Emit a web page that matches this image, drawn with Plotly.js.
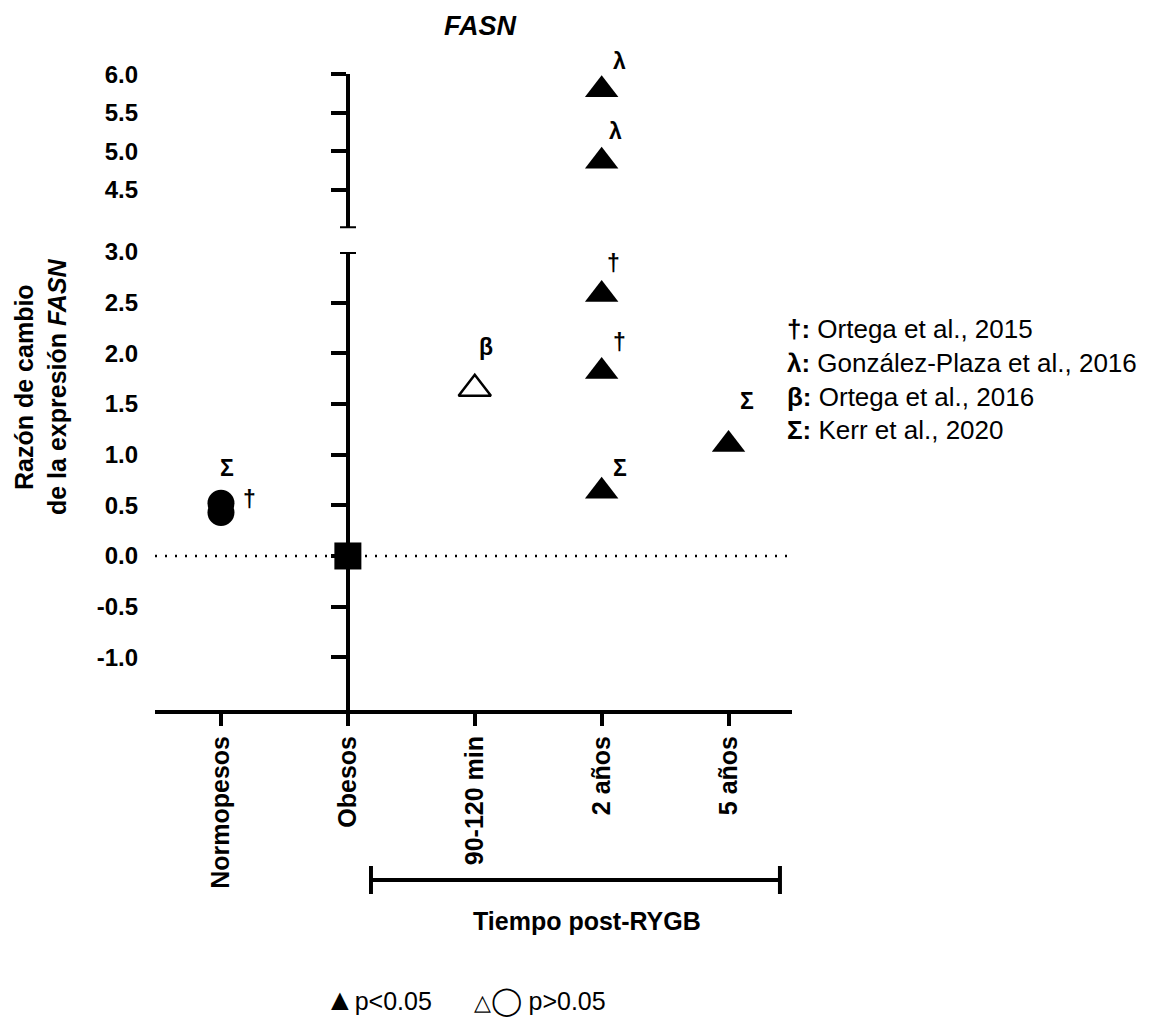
<!DOCTYPE html>
<html>
<head>
<meta charset="utf-8">
<script src="https://cdn.plot.ly/plotly-3.0.1.min.js"></script>
<style>html,body{margin:0;padding:0;background:#fff;}#chart{width:1156px;height:1028px;}</style>
</head>
<body>
<div id="chart"></div>
<script>
// ---------- data ----------
const categories = ['Normopesos', 'Obesos', '90-120 min', '2 años', '5 años'];

const normoX = ['Normopesos', 'Normopesos'];
const normoY = [0.52, 0.43];

const obesosX = ['Obesos'];
const obesosY = [0];

const sigLowerX = ['2 años', '2 años', '2 años', '5 años'];
const sigLowerY = [2.58, 1.82, 0.64, 1.10];

const sigUpperX = ['2 años', '2 años'];
const sigUpperY = [5.80, 4.87];

const nsX = ['90-120 min'];
const nsY = [1.65];

const labelText = ['Σ', '†', 'β', 'λ', 'λ', '†', '†', 'Σ', 'Σ'];
const labelX = ['Normopesos', 'Normopesos', '90-120 min', '2 años', '2 años', '2 años', '2 años', '2 años', '5 años'];
const labelY = [0.52, 0.52, 1.65, 5.80, 4.87, 2.58, 1.82, 0.64, 1.10];
const labelAxis = ['y', 'y', 'y', 'y2', 'y2', 'y', 'y', 'y', 'y'];

const yLowerTickVals = [-1, -0.5, 0, 0.5, 1, 1.5, 2, 2.5, 3];
const yLowerTickText = ['-1.0', '-0.5', '0.0', '0.5', '1.0', '1.5', '2.0', '2.5', '3.0'];
const yUpperTickVals = [4.5, 5, 5.5, 6];
const yUpperTickText = ['4.5', '5.0', '5.5', '6.0'];

const refLegend = [
  ['†', 'Ortega et al., 2015'],
  ['λ', 'González-Plaza et al., 2016'],
  ['β', 'Ortega et al., 2016'],
  ['Σ', 'Kerr et al., 2020']
];

// ---------- layout helpers ----------
const W = 1156, H = 1028;
const px = v => v / W;
const py = v => 1 - v / H;
const FONT = 'Liberation Sans, Arial, sans-serif';
const labelOffsets = [[6, 35], [29, 4], [11, 42], [18, 29], [14, 30], [12, 32], [18, 30], [18, 23], [18, 44]];
const LW = 4;

const mk = (x, y, yaxis, symbol, extra) => Object.assign({
  type: 'scatter', mode: 'markers', x: x, y: y, xaxis: 'x', yaxis: yaxis,
  cliponaxis: false, showlegend: false, hoverinfo: 'x+y',
  marker: {symbol: symbol, size: 27, color: '#000', line: {width: 0}}
}, extra || {});

const triMarker = {symbol: 'triangle-up', size: 29, color: '#000', line: {width: 0}};

const traces = [
  mk(normoX, normoY, 'y', 'circle'),
  mk(obesosX, obesosY, 'y', 'square'),
  mk(sigLowerX, sigLowerY, 'y', 'triangle-up', {marker: triMarker}),
  mk(sigUpperX, sigUpperY, 'y2', 'triangle-up', {marker: triMarker}),
  mk(nsX, nsY, 'y', 'triangle-up-open', {marker: {symbol: 'triangle-up-open', size: 28, color: '#000', line: {width: 2.5, color: '#000'}}}),
  {type: 'scatter', x: [], y: [], xaxis: 'x', yaxis: 'y3', showlegend: false, hoverinfo: 'skip'},
  {type: 'scatter', x: [], y: [], xaxis: 'x', yaxis: 'y4', showlegend: false, hoverinfo: 'skip'}
];

const xDomain = [px(155), px(792)];
const yAxisPos = px(348);
const labelPos = px(138);
const lowerDomain = [py(710), py(252)];
const upperDomain = [py(228.3), py(74.3)];
const lowerRange = [-1.52, 3.0];
const upperRange = [4.0, 6.0];

const tickFont = {family: FONT, size: 24, color: '#000', weight: 'bold'};

const annotations = labelText.map((t, i) => ({
  x: labelX[i], y: labelY[i], xref: 'x', yref: labelAxis[i],
  xanchor: 'center', yanchor: 'middle',
  text: '<b>' + t + '</b>', showarrow: false,
  xshift: labelOffsets[i][0], yshift: labelOffsets[i][1],
  font: {family: FONT, size: 23, color: '#000'}
}));

annotations.push({
  x: px(785), y: py(379.5), xref: 'paper', yref: 'paper', xanchor: 'left', yanchor: 'middle',
  align: 'left', showarrow: false,
  text: refLegend.map(r => '<b>' + r[0] + ':</b> ' + r[1]).join('<br>'),
  font: {family: FONT, size: 26, color: '#000'}
});

annotations.push({
  x: px(40), y: py(387), xref: 'paper', yref: 'paper', xanchor: 'center', yanchor: 'middle',
  textangle: -90, showarrow: false,
  text: '<b>Razón de cambio<br>de la expresión <i>FASN</i></b>',
  font: {family: FONT, size: 25, color: '#000'}
});

annotations.push({
  x: 2.884, y: py(921), xref: 'x', yref: 'paper', xanchor: 'center', yanchor: 'middle', showarrow: false,
  text: '<b>Tiempo post-RYGB</b>',
  font: {family: FONT, size: 25, color: '#000'}
});

annotations.push({
  x: px(465), y: py(1000), xref: 'paper', yref: 'paper', xanchor: 'center', yanchor: 'middle', showarrow: false,
  text: '<span style="font-size:30px">▲</span>p&lt;0.05&nbsp;&nbsp;&nbsp;&nbsp;&nbsp;&nbsp;<span style="font-size:22px">△</span><span style="font-size:28px">◯</span> p&gt;0.05',
  font: {family: FONT, size: 25, color: '#000'}
});

const blackLine = {color: '#000', width: LW};
const shapes = [
  // dotted reference line at zero
  {type: 'line', xref: 'paper', yref: 'y', x0: xDomain[0], x1: xDomain[1], y0: 0, y1: 0,
   line: {color: '#000', width: 2.5, dash: '2px,8px'}, layer: 'below'},
  // axis break caps
  {type: 'line', xref: 'paper', yref: 'y', x0: px(340), x1: px(356), y0: 3, y1: 3, line: blackLine},
  {type: 'line', xref: 'paper', yref: 'y2', x0: px(340), x1: px(356), y0: 4, y1: 4, line: blackLine},
  // time bracket
  {type: 'line', xref: 'x', yref: 'paper', x0: 1.182, x1: 4.405, y0: py(880), y1: py(880), line: blackLine},
  {type: 'line', xref: 'x', yref: 'paper', x0: 1.182, x1: 1.182, y0: py(866), y1: py(894), line: blackLine},
  {type: 'line', xref: 'x', yref: 'paper', x0: 4.405, x1: 4.405, y0: py(866), y1: py(894), line: blackLine}
];

const layout = {
  width: W, height: H,
  margin: {l: 0, r: 0, t: 0, b: 0},
  paper_bgcolor: '#fff', plot_bgcolor: 'rgba(0,0,0,0)',
  showlegend: false,
  font: {family: FONT, color: '#000'},
  title: {
    text: '<b><i>FASN</i></b>', xref: 'paper', yref: 'container',
    x: px(480), xanchor: 'center', y: py(26), yanchor: 'middle',
    font: {family: FONT, size: 27, color: '#000'}
  },
  xaxis: {
    type: 'category', categoryorder: 'array', categoryarray: categories,
    domain: xDomain, range: [-0.52, 4.50], anchor: 'y',
    showline: true, linecolor: '#000', linewidth: LW,
    ticks: 'outside', ticklen: 12, tickwidth: LW, tickcolor: '#000',
    tickangle: -90, tickfont: {family: FONT, size: 25, color: '#000', weight: 'bold'},
    showgrid: false, zeroline: false, fixedrange: true, automargin: false
  },
  yaxis: {
    domain: lowerDomain, range: lowerRange, anchor: 'free', position: yAxisPos,
    showline: true, linecolor: '#000', linewidth: LW,
    ticks: 'outside', ticklen: 15, tickwidth: LW, tickcolor: '#000',
    tickmode: 'array', tickvals: yLowerTickVals.filter(v => v < 3),
    showticklabels: false, showgrid: false, zeroline: false, fixedrange: true, automargin: false
  },
  yaxis2: {
    domain: upperDomain, range: upperRange, anchor: 'free', position: yAxisPos,
    showline: true, linecolor: '#000', linewidth: LW,
    ticks: 'outside', ticklen: 15, tickwidth: LW, tickcolor: '#000',
    tickmode: 'array', tickvals: yUpperTickVals,
    showticklabels: false, showgrid: false, zeroline: false, fixedrange: true, automargin: false
  },
  yaxis3: {
    overlaying: 'y', range: lowerRange, anchor: 'free', position: labelPos,
    showline: false, ticks: '', tickmode: 'array', tickvals: yLowerTickVals, ticktext: yLowerTickText,
    tickfont: tickFont, showgrid: false, zeroline: false, fixedrange: true, automargin: false
  },
  yaxis4: {
    overlaying: 'y2', range: upperRange, anchor: 'free', position: labelPos,
    showline: false, ticks: '', tickmode: 'array', tickvals: yUpperTickVals, ticktext: yUpperTickText,
    tickfont: tickFont, showgrid: false, zeroline: false, fixedrange: true, automargin: false
  },
  shapes: shapes,
  annotations: annotations
};

Plotly.newPlot('chart', traces, layout, {displayModeBar: false, staticPlot: true});
</script>
</body>
</html>
